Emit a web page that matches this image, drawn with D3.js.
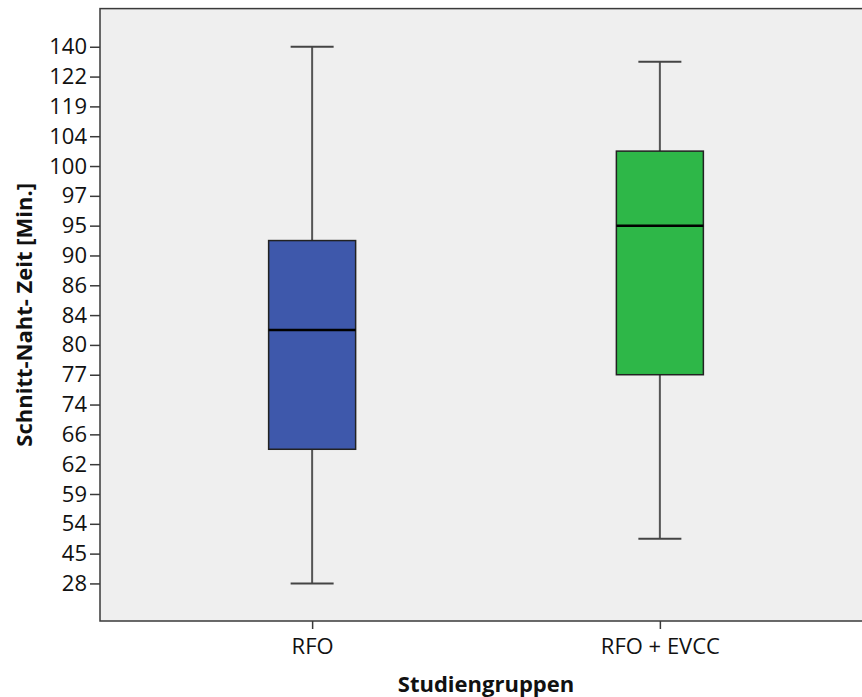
<!DOCTYPE html>
<html>
<head>
  <meta charset="utf-8">
  <title>Schnitt-Naht-Zeit nach Studiengruppen</title>
  <script src="https://cdn.jsdelivr.net/npm/d3@7"></script>
  <style>
    html, body {
      margin: 0;
      background: #fff;
    }
    svg {
      display: block;
      font-family: "Open Sans", "DejaVu Sans", sans-serif;
    }
  </style>
</head>
<body>
  <div id="chart"></div>

  <script>
  (function () {

  // groups on the x axis
  var groups = ["RFO", "RFO + EVCC"];

  // y axis is ordinal: one evenly spaced label per observed value (bottom to top)
  var yTickLabels = ["28", "45", "54", "59", "62", "66", "74", "77", "80", "84",
                     "86", "90", "95", "97", "100", "104", "119", "122", "140"];

  // box statistics, expressed as positions on that ordinal axis
  var whiskerLow  = [0, 1.5],
      q1          = [4.5, 7],
      median      = [8.5, 12],
      q3          = [11.5, 14.5],
      whiskerHigh = [18, 17.5];

  var boxFill = ["#3e58ab", "#2eb748"];

  var width = 862,
      height = 697,
      plot = { left: 100, right: 872, top: 8.6, bottom: 621 };

  var svg = d3.select("#chart").append("svg")
      .attr("width", width)
      .attr("height", height);

  var x = d3.scalePoint()
      .domain(groups)
      .range([plot.left, plot.right])
      .padding(0.61);

  var y = d3.scaleLinear()
      .domain([-1.26, 19.28])
      .range([plot.bottom, plot.top]);

  // plot background
  svg.append("rect")
      .attr("x", plot.left)
      .attr("y", plot.top)
      .attr("width", plot.right - plot.left)
      .attr("height", plot.bottom - plot.top)
      .attr("fill", "#efefef")
      .attr("stroke", "#3a3a3a")
      .attr("stroke-width", 1.5);

  var boxes = groups.map(function (g, i) {
    return { name: g, lo: whiskerLow[i], q1: q1[i], med: median[i], q3: q3[i], hi: whiskerHigh[i], fill: boxFill[i] };
  });

  var boxW = 87,
      capW = 43;

  var box = svg.selectAll("g.box")
    .data(boxes)
    .enter().append("g")
      .attr("class", "box")
      .attr("transform", function (d) { return "translate(" + x(d.name) + ",0)"; });

  // whiskers
  box.append("line")
      .attr("x1", 0).attr("x2", 0)
      .attr("y1", function (d) { return y(d.hi); })
      .attr("y2", function (d) { return y(d.q3); })
      .attr("stroke", "#555").attr("stroke-width", 2);

  box.append("line")
      .attr("x1", 0).attr("x2", 0)
      .attr("y1", function (d) { return y(d.q1); })
      .attr("y2", function (d) { return y(d.lo); })
      .attr("stroke", "#555").attr("stroke-width", 2);

  // caps
  box.selectAll("line.cap")
    .data(function (d) { return [d.hi, d.lo]; })
    .enter().append("line")
      .attr("class", "cap")
      .attr("x1", -capW / 2).attr("x2", capW / 2)
      .attr("y1", function (v) { return y(v); })
      .attr("y2", function (v) { return y(v); })
      .attr("stroke", "#444").attr("stroke-width", 2);

  // box
  box.append("rect")
      .attr("x", -boxW / 2)
      .attr("y", function (d) { return y(d.q3); })
      .attr("width", boxW)
      .attr("height", function (d) { return y(d.q1) - y(d.q3); })
      .attr("fill", function (d) { return d.fill; })
      .attr("stroke", "#222")
      .attr("stroke-width", 1.5);

  // median
  box.append("line")
      .attr("x1", -boxW / 2).attr("x2", boxW / 2)
      .attr("y1", function (d) { return y(d.med); })
      .attr("y2", function (d) { return y(d.med); })
      .attr("stroke", "#000").attr("stroke-width", 2.5);

  // y axis
  var yAxis = svg.append("g")
      .attr("transform", "translate(" + plot.left + ",0)")
      .call(d3.axisLeft(y)
        .tickValues(d3.range(yTickLabels.length))
        .tickFormat(function (i) { return yTickLabels[i]; })
        .tickSize(10)
        .tickPadding(3));

  yAxis.select(".domain").remove();
  yAxis.selectAll(".tick line").attr("stroke", "#3a3a3a").attr("stroke-width", 1.5);
  yAxis.selectAll(".tick text")
      .attr("fill", "#111")
      .style("font-size", "22px")
      .style("font-family", "'Open Sans', sans-serif");

  // x axis
  var xAxis = svg.append("g")
      .attr("transform", "translate(0," + plot.bottom + ")")
      .call(d3.axisBottom(x).tickSize(8).tickPadding(9));

  xAxis.select(".domain").remove();
  xAxis.selectAll(".tick line").attr("stroke", "#3a3a3a").attr("stroke-width", 1.5);
  xAxis.selectAll(".tick text")
      .attr("fill", "#111")
      .style("font-size", "22px")
      .style("font-family", "'Open Sans', sans-serif");

  // axis titles
  svg.append("text")
      .attr("x", (plot.left + plot.right) / 2)
      .attr("y", 692)
      .attr("text-anchor", "middle")
      .style("font-size", "22px")
      .style("font-weight", "bold")
      .attr("fill", "#111")
      .text("Studiengruppen");

  svg.append("text")
      .attr("transform", "translate(32," + (plot.top + plot.bottom) / 2 + ") rotate(-90)")
      .attr("text-anchor", "middle")
      .style("font-size", "22px")
      .style("font-weight", "bold")
      .attr("fill", "#111")
      .text("Schnitt-Naht- Zeit [Min.]");

  })();
  </script>
</body>
</html>
